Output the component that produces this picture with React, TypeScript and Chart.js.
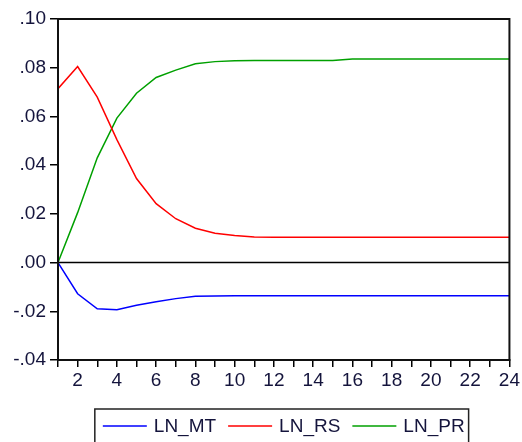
import React, { useEffect, useRef } from "react";
import { Chart, registerables } from "chart.js";

Chart.register(...registerables);

const periods = [1, 2, 3, 4, 5, 6, 7, 8, 9, 10, 11, 12, 13, 14, 15, 16, 17, 18, 19, 20, 21, 22, 23, 24];
const lnMT = [0, -0.0128, -0.019, -0.0194, -0.0175, -0.0161, -0.0148, -0.0138, -0.0137, -0.0136, -0.0136, -0.0136, -0.0136, -0.0136, -0.0136, -0.0136, -0.0136, -0.0136, -0.0136, -0.0136, -0.0136, -0.0136, -0.0136, -0.0136];
const lnRS = [0.0714, 0.0805, 0.0679, 0.0505, 0.0345, 0.0242, 0.018, 0.0141, 0.012, 0.0111, 0.0105, 0.0104, 0.0104, 0.0104, 0.0104, 0.0104, 0.0104, 0.0104, 0.0104, 0.0104, 0.0104, 0.0104, 0.0104, 0.0104];
const lnPR = [0, 0.0205, 0.043, 0.0593, 0.0695, 0.076, 0.079, 0.0816, 0.0825, 0.0829, 0.083, 0.083, 0.083, 0.083, 0.083, 0.0836, 0.0836, 0.0836, 0.0836, 0.0836, 0.0836, 0.0836, 0.0836, 0.0836];
const seriesLabels = ["LN_MT", "LN_RS", "LN_PR"];
const seriesColors = ["#0000ff", "#ff0000", "#00a000"];

const FONT = "Arial, 'Liberation Sans', sans-serif";
const TEXT = "#14143c";

const framePlugin = {
  id: "frameAndLegend",
  beforeDatasetsDraw(chart: any) {
    const { ctx, chartArea, scales } = chart;
    const y0 = scales.y.getPixelForValue(0);
    ctx.save();
    ctx.strokeStyle = "#000";
    ctx.lineWidth = 1.5;
    ctx.beginPath();
    ctx.moveTo(chartArea.left, y0);
    ctx.lineTo(chartArea.right, y0);
    ctx.stroke();
    ctx.restore();
  },
  afterDraw(chart: any) {
    const { ctx, chartArea } = chart;
    ctx.save();
    ctx.strokeStyle = "#111";
    ctx.lineWidth = 2;
    ctx.strokeRect(chartArea.left, chartArea.top, chartArea.right - chartArea.left, chartArea.bottom - chartArea.top);

    // legend
    ctx.font = "19px " + FONT;
    const lineW = 44;
    const gap = 7;
    const itemGap = 12;
    const ds = chart.data.datasets;
    const widths = ds.map((d: any) => ctx.measureText(d.label).width);
    const total = widths.reduce((a: number, b: number) => a + b, 0) + ds.length * (lineW + gap) + itemGap * (ds.length - 1);
    const cx = (chartArea.left + chartArea.right) / 2;
    let x = cx - total / 2;
    const rowY = chartArea.bottom + 66;
    const startX = x;
    ds.forEach((d: any, i: number) => {
      ctx.strokeStyle = d.borderColor;
      ctx.lineWidth = 1.5;
      ctx.beginPath();
      ctx.moveTo(x, rowY);
      ctx.lineTo(x + lineW, rowY);
      ctx.stroke();
      x += lineW + gap;
      ctx.fillStyle = TEXT;
      ctx.textBaseline = "middle";
      ctx.textAlign = "left";
      ctx.fillText(d.label, x, rowY + 1);
      x += widths[i] + itemGap;
    });
    const endX = x - itemGap;
    ctx.strokeStyle = "#222";
    ctx.lineWidth = 1.5;
    ctx.strokeRect(startX - 8, rowY - 17, endX + 4 - (startX - 8), chart.height + 10 - (rowY - 17));
    ctx.restore();
  },
};

function fmtY(v: number): string {
  const r = Math.round(v * 100) / 100;
  const s = Math.abs(r).toFixed(2).replace(/^0/, "");
  return (r < 0 ? "-" : "") + s;
}

export default function App() {
  const ref = useRef<HTMLCanvasElement | null>(null);
  useEffect(() => {
    if (!ref.current) return;
    const series = [lnMT, lnRS, lnPR];
    const chart = new Chart(ref.current, {
      type: "line",
      data: {
        datasets: series.map((vals, i) => ({
          label: seriesLabels[i],
          data: periods.map((p, j) => ({ x: p, y: vals[j] })),
          borderColor: seriesColors[i],
          backgroundColor: seriesColors[i],
          borderWidth: 1.5,
          pointRadius: 0,
          tension: 0,
          fill: false,
        })),
      },
      options: {
        responsive: false,
        animation: false,
        layout: { padding: { top: 19, right: 10, left: 0, bottom: 0 } },
        plugins: { legend: { display: false }, tooltip: { enabled: false } },
        scales: {
          x: {
            type: "linear",
            min: 1,
            max: 24,
            afterFit: (s: any) => {
              s.height = 82;
            },
            ticks: {
              stepSize: 1,
              autoSkip: false,
              maxRotation: 0,
              padding: 2,
              color: TEXT,
              font: { family: FONT, size: 19 },
              callback: (v: any) => (Number(v) % 2 === 0 ? String(v) : ""),
            },
            grid: { drawOnChartArea: false, drawTicks: true, tickLength: 7, color: "#000", lineWidth: 1.5 },
            border: { display: true, color: "#111", width: 2 },
          },
          y: {
            min: -0.04,
            max: 0.1,
            afterFit: (s: any) => {
              s.width = 58;
            },
            ticks: {
              stepSize: 0.02,
              padding: 4,
              color: TEXT,
              font: { family: FONT, size: 19 },
              callback: (v: any) => fmtY(Number(v)),
            },
            grid: { drawOnChartArea: false, drawTicks: true, tickLength: 8, color: "#000", lineWidth: 1.5 },
            border: { display: true, color: "#111", width: 2 },
          },
        },
      },
      plugins: [framePlugin],
    });
    return () => chart.destroy();
  }, []);
  return (
    <div style={{ position: "absolute", left: 0, top: 0, width: 522, height: 442, background: "#fff" }}>
      <canvas ref={ref} width={522} height={442} />
    </div>
  );
}
